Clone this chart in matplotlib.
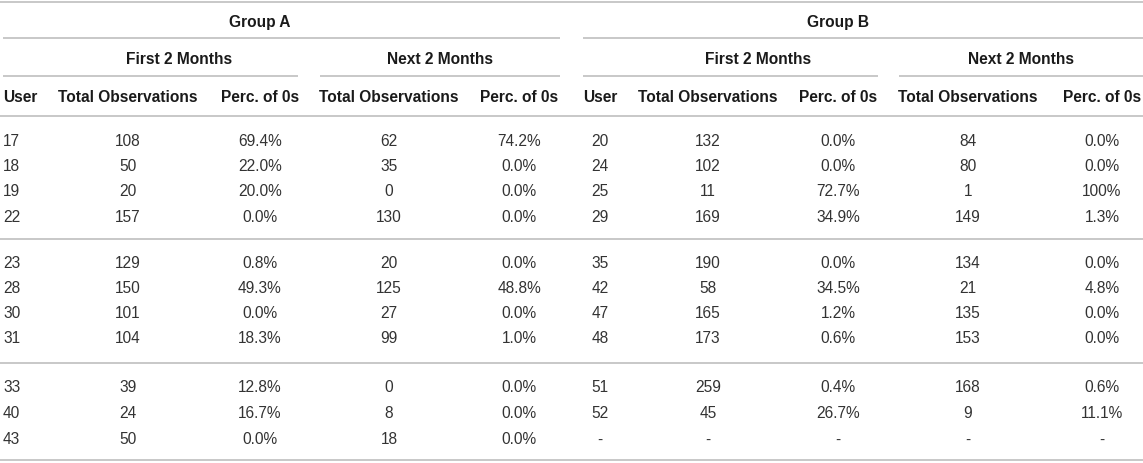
import matplotlib.pyplot as plt

# table contents
users_a = [17, 18, 19, 22, 23, 28, 30, 31, 33, 40, 43]
first_total_a = [108, 50, 20, 157, 129, 150, 101, 104, 39, 24, 50]
first_perc_a = [69.4, 22.0, 20.0, 0.0, 0.8, 49.3, 0.0, 18.3, 12.8, 16.7, 0.0]
next_total_a = [62, 35, 0, 130, 20, 125, 27, 99, 0, 8, 18]
next_perc_a = [74.2, 0.0, 0.0, 0.0, 0.0, 48.8, 0.0, 1.0, 0.0, 0.0, 0.0]

users_b = [20, 24, 25, 29, 35, 42, 47, 48, 51, 52, None]
first_total_b = [132, 102, 11, 169, 190, 58, 165, 173, 259, 45, None]
first_perc_b = [0.0, 0.0, 72.7, 34.9, 0.0, 34.5, 1.2, 0.6, 0.4, 26.7, None]
next_total_b = [84, 80, 1, 149, 134, 21, 135, 153, 168, 9, None]
next_perc_b = [0.0, 0.0, 100.0, 1.3, 0.0, 4.8, 0.0, 0.0, 0.6, 11.1, None]

group_labels = ["Group A", "Group B"]
period_labels = ["First 2 Months", "Next 2 Months"]
col_labels = ["User", "Total Observations", "Perc. of 0s"]

W, H = 1143, 464
LINE_C = "#c4c4c4"
HEAD_C = "#1a1a1a"
TEXT_C = "#333333"
FONT = "Liberation Sans"


def fmt_int(v):
    return "-" if v is None else str(v)


def fmt_perc(v):
    if v is None:
        return "-"
    if v == 100:
        return "100%"
    return f"{v:.1f}%"


fig = plt.figure(figsize=(W / 100, H / 100), dpi=100)
ax = fig.add_axes([0, 0, 1, 1])
ax.set_xlim(0, W)
ax.set_ylim(H, 0)
ax.axis("off")


def hline(y, x0, x1):
    ax.plot([x0, x1], [y, y], color=LINE_C, lw=1.3, solid_capstyle="butt")


def txt(x, y, s, ha="center", bold=False):
    ax.text(x, y, s, ha=ha, va="center", fontsize=11.2, family=FONT,
            fontweight="bold" if bold else "normal",
            color=HEAD_C if bold else TEXT_C)


# horizontal rules
hline(3, 0, W)
hline(39, 3, 560)
hline(39, 583, W)
for x0, x1 in [(3, 298), (320, 560), (583, 878), (899, W)]:
    hline(77, x0, x1)
hline(117, 0, W)
hline(240, 0, W)
hline(364, 0, W)
hline(461, 0, W)

# header text
txt(260, 22, group_labels[0], bold=True)
txt(838, 22, group_labels[1], bold=True)
for cx, lab in zip([179, 440, 758, 1021], period_labels * 2):
    txt(cx, 59, lab, bold=True)

# column centres (User A is left aligned)
cols_a = [3, 128, 260, 389, 519]
cols_b = [600, 708, 838, 968, 1102]
txt(cols_a[0], 97, col_labels[0], ha="left", bold=True)
txt(cols_b[0], 97, col_labels[0], bold=True)
for cols in (cols_a, cols_b):
    for cx, lab in zip(cols[1:], col_labels[1:] * 2):
        txt(cx, 97, lab, bold=True)

# body rows
row_y = [142, 167, 192, 218, 264, 289, 314, 339, 388, 414, 440]
for i, y in enumerate(row_y):
    txt(cols_a[0], y, fmt_int(users_a[i]), ha="left")
    txt(cols_a[1], y, fmt_int(first_total_a[i]))
    txt(cols_a[2], y, fmt_perc(first_perc_a[i]))
    txt(cols_a[3], y, fmt_int(next_total_a[i]))
    txt(cols_a[4], y, fmt_perc(next_perc_a[i]))
    txt(cols_b[0], y, fmt_int(users_b[i]))
    txt(cols_b[1], y, fmt_int(first_total_b[i]))
    txt(cols_b[2], y, fmt_perc(first_perc_b[i]))
    txt(cols_b[3], y, fmt_int(next_total_b[i]))
    txt(cols_b[4], y, fmt_perc(next_perc_b[i]))

fig.savefig("out.png", dpi=100)
